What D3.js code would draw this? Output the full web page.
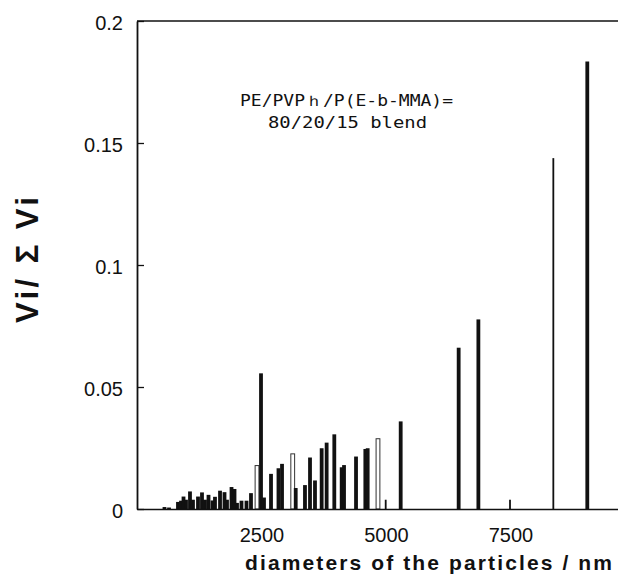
<!DOCTYPE html>
<html>
<head>
<meta charset="utf-8">
<script src="https://cdn.jsdelivr.net/npm/d3@7"></script>
<style>
  body { margin: 0; background: #fff; }
  text { fill: #111; }
</style>
</head>
<body>
<div id="chart"></div>
<script>
// particle diameters (nm) and volume fractions
var diameters = [552, 643, 823, 884, 934, 984, 1064, 1124, 1225, 1305, 1365, 1436,
  1516, 1566, 1667, 1757, 1807, 1898, 1958, 2008, 2098, 2199, 2289, 2410, 2490,
  2550, 2691, 2841, 2912, 3127, 3187, 3373, 3474, 3574, 3708, 3808, 3962, 4110,
  4157, 4398, 4585, 4632, 4839, 4994, 5295, 6459, 6855, 7490, 8360, 9042];
var fractions = [0.0008, 0.0006, 0.0029, 0.0034, 0.0051, 0.0038, 0.0072, 0.0038,
  0.0051, 0.0068, 0.0038, 0.0058, 0.0035, 0.005, 0.0075, 0.0069, 0.0038, 0.009,
  0.0082, 0.0025, 0.0034, 0.0034, 0.0065, 0.0178, 0.0556, 0.0047, 0.0144, 0.0167,
  0.0185, 0.0226, 0.0086, 0.0098, 0.0211, 0.0117, 0.0249, 0.0272, 0.0306, 0.0171,
  0.018, 0.0215, 0.0246, 0.0249, 0.0288, 0.0038, 0.0359, 0.0661, 0.0777, 0.0038,
  0.1438, 0.1834];
var xTicks = [2500, 5000, 7500];
var yTicks = [0, 0.05, 0.1, 0.15, 0.2];

// bars drawn thin or open in the original
var thinBars = [4994, 7490, 8360];
var openBars = [2410, 3127, 4839];

var svgWidth = 618;
var svgHeight = 580;

var margin = { top: 21, left: 137, bottom: 509 };

var svg = d3.select("#chart")
  .append("svg")
  .attr("width", svgWidth)
  .attr("height", svgHeight);

var data = diameters.map((d, i) => ({ d: d, v: fractions[i] }));

var x = d3.scaleLinear()
  .domain([0, 10000])
  .range([margin.left, margin.left + 498]);

var y = d3.scaleLinear()
  .domain([0, 0.2])
  .range([margin.bottom, margin.top]);

// bars
svg.selectAll("rect.bar")
  .data(data)
  .enter()
  .append("rect")
  .attr("class", "bar")
  .attr("x", d => x(d.d) - (thinBars.includes(d.d) ? 0.9 : 1.9))
  .attr("width", d => thinBars.includes(d.d) ? 1.8 : 3.8)
  .attr("y", d => y(d.v))
  .attr("height", d => y(0) - y(d.v))
  .attr("fill", d => openBars.includes(d.d) ? "#fff" : "#111")
  .attr("stroke", d => openBars.includes(d.d) ? "#333" : "none")
  .attr("stroke-width", 1);

// y axis, ticks pointing inward
var yAxis = svg.append("g")
  .attr("transform", `translate(${margin.left}, 0)`)
  .call(d3.axisLeft(y)
    .tickValues(yTicks)
    .tickFormat(d => d === 0 ? "0" : String(+d.toFixed(2)))
    .tickSize(-7)
    .tickSizeOuter(0)
    .tickPadding(14));

yAxis.select(".domain").attr("stroke", "#111").attr("stroke-width", 1.8);
yAxis.selectAll(".tick line").attr("stroke", "#111").attr("stroke-width", 1.3);
yAxis.selectAll(".tick text")
  .attr("font-family", "Liberation Sans, Arial, sans-serif")
  .attr("font-size", "20px")
  .attr("dy", "0.42em")
  .attr("fill", "#111");

// x axis, no tick marks
var xAxis = svg.append("g")
  .attr("transform", `translate(0, ${margin.bottom})`)
  .call(d3.axisBottom(x)
    .tickValues(xTicks)
    .tickFormat(d3.format("d"))
    .tickSize(0)
    .tickSizeOuter(0)
    .tickPadding(19));

xAxis.select(".domain").attr("stroke", "#111").attr("stroke-width", 1.6);
xAxis.selectAll(".tick text")
  .attr("font-family", "Liberation Sans, Arial, sans-serif")
  .attr("font-size", "20px")
  .attr("fill", "#111");

// top frame line
svg.append("line")
  .attr("x1", margin.left)
  .attr("x2", svgWidth)
  .attr("y1", y(0.2))
  .attr("y2", y(0.2))
  .attr("stroke", "#111")
  .attr("stroke-width", 1.5);

// axis titles
svg.append("text")
  .attr("transform", "translate(38, 260) rotate(-90)")
  .attr("text-anchor", "middle")
  .attr("font-family", "Liberation Sans, Arial, sans-serif")
  .attr("font-weight", "bold")
  .attr("font-size", "31px")
  .attr("textLength", 126)
  .attr("lengthAdjust", "spacing")
  .text("Vi/ Σ Vi");

svg.append("text")
  .attr("x", 245)
  .attr("y", 570)
  .attr("font-family", "Liberation Sans, Arial, sans-serif")
  .attr("font-weight", "bold")
  .attr("font-size", "21px")
  .attr("textLength", 367)
  .attr("lengthAdjust", "spacing")
  .text("diameters of the particles / nm");

// annotation
svg.append("text")
  .attr("x", 240)
  .attr("y", 106)
  .attr("font-family", "DejaVu Sans Mono, monospace")
  .attr("font-size", "15px")
  .attr("textLength", 213)
  .attr("lengthAdjust", "spacingAndGlyphs")
  .text("PE/PVPｈ/P(E-b-MMA)=");

svg.append("text")
  .attr("x", 268)
  .attr("y", 128)
  .attr("font-family", "DejaVu Sans Mono, monospace")
  .attr("font-size", "15px")
  .attr("textLength", 159)
  .attr("lengthAdjust", "spacingAndGlyphs")
  .text("80/20/15  blend");
</script>
</body>
</html>
